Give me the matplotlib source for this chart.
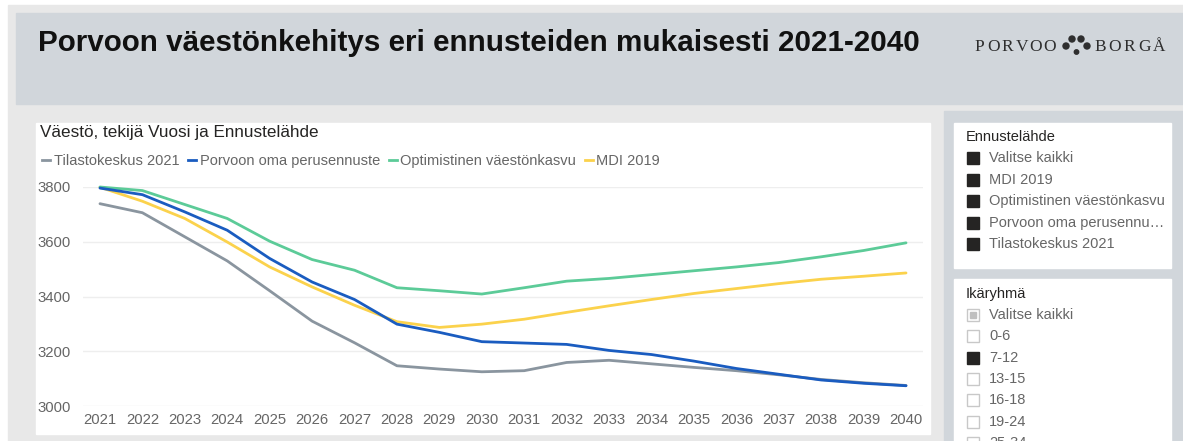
import matplotlib
matplotlib.use("Agg")
import matplotlib.pyplot as plt
from matplotlib.patches import Rectangle, Circle
from matplotlib.lines import Line2D

plt.rcParams["font.family"] = ["Liberation Sans", "DejaVu Sans"]

W, H = 1183, 441

years = list(range(2021, 2041))
series_names = ["Tilastokeskus 2021", "Porvoon oma perusennuste", "Optimistinen väestönkasvu", "MDI 2019"]
tilastokeskus = [3739, 3706, 3618, 3530, 3421, 3310, 3231, 3147, 3135, 3125,
                 3129, 3159, 3167, 3154, 3141, 3129, 3114, 3097, 3085, 3075]
porvoo_oma = [3796, 3772, 3709, 3642, 3539, 3453, 3389, 3299, 3269, 3235,
              3230, 3225, 3203, 3188, 3164, 3137, 3116, 3095, 3083, 3074]
optimistinen = [3800, 3787, 3736, 3685, 3602, 3535, 3496, 3432, 3421, 3409,
                3432, 3456, 3466, 3480, 3494, 3508, 3524, 3545, 3568, 3596]
mdi_2019 = [3799, 3748, 3685, 3599, 3508, 3435, 3368, 3308, 3287, 3299,
            3317, 3342, 3366, 3389, 3411, 3429, 3447, 3463, 3474, 3486]
y_ticks = [3000, 3200, 3400, 3600, 3800]

slicer1_title = "Ennustelähde"
slicer1_items = ["Valitse kaikki", "MDI 2019", "Optimistinen väestönkasvu",
                 "Porvoon oma perusennu…", "Tilastokeskus 2021"]
slicer2_title = "Ikäryhmä"
slicer2_items = ["Valitse kaikki", "0-6", "7-12", "13-15", "16-18", "19-24", "25-34"]
slicer2_state = ["partial", "off", "on", "off", "off", "off", "off"]

colors = ["#8a959f", "#1a5cc0", "#5ccb98", "#fbd24c"]
header_bg = "#d1d6db"
page_bg = "#e8e8e8"
text_gray = "#666666"


def frac(x0, y0, x1, y1):
    return [x0 / W, 1 - y1 / H, (x1 - x0) / W, (y1 - y0) / H]


fig = plt.figure(figsize=(W / 100, H / 100), dpi=100)

# background drawing layer in pixel coordinates
bg = fig.add_axes([0, 0, 1, 1])
bg.set_xlim(0, W)
bg.set_ylim(H, 0)
bg.axis("off")
bg.add_patch(Rectangle((0, 0), W, H, color="white"))
bg.add_patch(Rectangle((8, 5), W - 8, H - 5, color=page_bg))
bg.add_patch(Rectangle((16, 13), W - 16, 91, color=header_bg))
bg.add_patch(Rectangle((944, 111), W - 944, H - 111, color=header_bg))
bg.add_patch(Rectangle((36, 123), 894, 311, color="white"))
bg.add_patch(Rectangle((954, 123), 217, 145, color="white"))
bg.add_patch(Rectangle((954, 279), 217, 170, color="white"))

bg.text(38, 51, "Porvoon väestönkehitys eri ennusteiden mukaisesti 2021-2040",
        fontsize=21.3, fontweight="bold", color="#111111", va="baseline")

# logo
logo_font = ["Liberation Serif", "DejaVu Serif"]
for i, ch in enumerate("PORVOO"):
    bg.text(979 + i * 14.2, 51, ch, fontsize=12.5, family=logo_font,
            color="#2e2e2e", ha="center", va="baseline")
for i, ch in enumerate("BORGÅ"):
    bg.text(1100 + i * 14.8, 51, ch, fontsize=12.5, family=logo_font,
            color="#2e2e2e", ha="center", va="baseline")
for cx, cy, r in [(1072, 39, 3), (1081, 39, 3), (1066, 46, 3), (1087, 46, 3), (1076.5, 52, 2.2)]:
    bg.add_patch(Circle((cx, cy), r, color="#2e2e2e"))

bg.text(40, 133, "Väestö, tekijä Vuosi ja Ennustelähde", fontsize=12.3,
        color="#252423", va="center")

# slicers
bg.text(966, 137, slicer1_title, fontsize=10.5, color="#252423", va="center")
for i, name in enumerate(slicer1_items):
    yy = 158 + i * 21.5
    bg.add_patch(Rectangle((967, yy - 6), 12, 12, color="#252423"))
    bg.text(989, yy, name, fontsize=10.5, color=text_gray, va="center")

bg.text(966, 294, slicer2_title, fontsize=10.5, color="#252423", va="center")
for i, (name, state) in enumerate(zip(slicer2_items, slicer2_state)):
    yy = 315 + i * 21.3
    if state == "on":
        bg.add_patch(Rectangle((967, yy - 6), 12, 12, color="#252423"))
    else:
        bg.add_patch(Rectangle((967, yy - 6), 12, 12, facecolor="white",
                               edgecolor="#c8c8c8", linewidth=1))
        if state == "partial":
            bg.add_patch(Rectangle((970, yy - 3), 6, 6, color="#c0c0c0"))
    bg.text(989, yy, name, fontsize=10.5, color=text_gray, va="center")

# chart
ax = fig.add_axes(frac(83, 187, 923, 406))
ax.set_facecolor("none")
all_series = [tilastokeskus, porvoo_oma, optimistinen, mdi_2019]
order = [0, 3, 2, 1]
for k in order:
    ax.plot(years, all_series[k], color=colors[k], linewidth=2.0,
            clip_on=False, solid_capstyle="round", zorder=3 + (k == 1))

ax.set_xlim(2020.6, 2040.4)
ax.set_ylim(3000, 3800)
ax.set_xticks(years)
ax.set_yticks(y_ticks)
ax.yaxis.grid(True, color="#eeeeee", linewidth=1)
ax.set_axisbelow(True)
for s in ax.spines.values():
    s.set_visible(False)
ax.tick_params(axis="both", length=0, labelsize=10.7, labelcolor=text_gray)
ax.tick_params(axis="y", pad=9)
ax.tick_params(axis="x", pad=5)

handles = [Line2D([0], [0], color=c, linewidth=2) for c in colors]
fig.legend(handles, series_names, loc="center left",
           bbox_to_anchor=(36 / W, 1 - 161 / H), ncol=4, frameon=False,
           handlelength=0.55, handletextpad=0.25, columnspacing=0.6,
           fontsize=10.5, labelcolor=text_gray, borderaxespad=0)

fig.savefig("out.png", dpi=100)
